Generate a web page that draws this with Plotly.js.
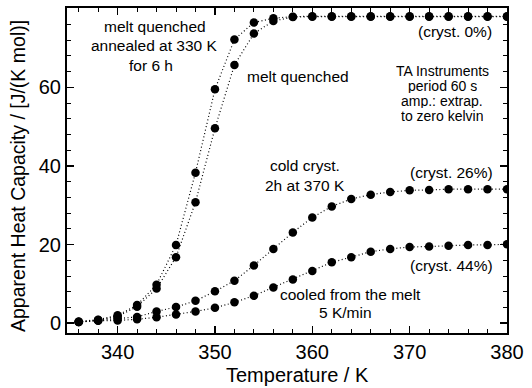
<!DOCTYPE html>
<html>
<head>
<meta charset="utf-8">
<script src="https://cdn.plot.ly/plotly-3.0.1.min.js"></script>
<style>html,body{margin:0;padding:0;background:#fff;}#chart{width:532px;height:388px;}</style>
</head>
<body>
<div id="chart"></div>
<script>
const temperature = [336,338,340,342,344,346,348,350,352,354,356,358,360,362,364,366,368,370,372,374,376,378,380];
const annealed   = [0.4,0.9,2.0,4.6,9.8,19.9,38.3,59.5,72.2,76.5,77.6,78.0,78.1,78.1,78.1,78.1,78.1,78.1,78.1,78.1,78.1,78.1,78.1];
const quenched   = [0.3,0.8,1.7,4.2,8.8,16.8,30.8,49.6,65.7,73.7,76.9,77.9,78.0,78.0,78.0,78.0,78.0,78.0,78.0,78.0,78.0,78.0,78.0];
const coldCryst  = [0.3,0.7,1.2,1.6,3.0,4.1,5.7,8.1,10.8,14.7,18.9,23.1,26.9,29.7,31.6,32.7,33.4,33.8,33.9,34.1,34.1,34.1,34.1];
const cooled     = [0.3,0.6,0.7,1.0,1.5,2.2,3.0,3.9,5.3,7.0,9.1,11.1,13.3,15.5,16.8,18.2,18.9,19.4,19.5,19.7,19.9,19.9,20.1];

const xTitle = 'Temperature / K';
const yTitle = 'Apparent Heat Capacity / [J/(K mol)]';

const seriesList = [annealed, quenched, coldCryst, cooled];
const traces = seriesList.map(v => ({
  x: temperature, y: v, type: 'scatter', mode: 'lines+markers',
  line: {color: '#000', width: 1.2, dash: '1px,2.5px'},
  marker: {color: '#000', size: 8.5},
  showlegend: false, hoverinfo: 'skip'
}));

const F = 'Liberation Sans, Arial, sans-serif';
// paper coords: plot area x 67..507 (440px), y 8..333 (325px)
const px = v => (v - 67) / 440;
const py = v => (333 - v) / 325;
const ann = (x, y, text, size, xanchor, angle, h) => {
  const a = {
    xref: 'paper', yref: 'paper', x: px(x), y: py(y), text: text, showarrow: false,
    font: {family: F, size: size, color: '#000'}, xanchor: xanchor || 'center', yanchor: 'middle',
    textangle: angle || 0
  };
  if (h) { a.height = h; a.borderpad = 0; }
  return a;
};

const layout = {
  width: 532, height: 388,
  margin: {l: 67, r: 25, t: 8, b: 55},
  paper_bgcolor: '#fff', plot_bgcolor: '#fff',
  font: {family: F, color: '#000'},
  xaxis: {
    range: [334.8, 380], dtick: 10, tick0: 340,
    ticks: 'inside', ticklen: 7, tickwidth: 1.5, tickcolor: '#000',
    minor: {dtick: 2, tick0: 340, ticks: 'inside', ticklen: 4, tickwidth: 1, tickcolor: '#000'},
    showline: true, linewidth: 2, linecolor: '#000', mirror: 'allticks',
    showgrid: false, zeroline: false,
    tickfont: {family: F, size: 20, color: '#000'}
  },
  yaxis: {
    range: [-2.5, 80.2], dtick: 20, tick0: 0,
    ticks: 'inside', ticklen: 7, tickwidth: 1.5, tickcolor: '#000',
    minor: {dtick: 4, tick0: 0, ticks: 'inside', ticklen: 4, tickwidth: 1, tickcolor: '#000'},
    showline: true, linewidth: 2, linecolor: '#000', mirror: 'allticks',
    showgrid: false, zeroline: false,
    tickfont: {family: F, size: 20, color: '#000'}
  },
  annotations: [
    ann(297, 375, xTitle, 20),
    ann(18, 176, yTitle, 19.5, 'center', -90),
    ann(155, 27, 'melt quenched', 15.5),
    ann(153.5, 46, 'annealed at 330 K', 15.5),
    ann(151, 65, 'for 6 h', 15.5),
    ann(297.5, 76, 'melt quenched', 15.5),
    ann(494, 31, '(cryst. 0%)', 15.5, 'right'),
    ann(442, 70, 'TA Instruments', 14, 'center', 0, 15),
    ann(442, 85, 'period 60 s', 14, 'center', 0, 15),
    ann(442, 100, 'amp.: extrap.', 14, 'center', 0, 15),
    ann(442, 115, 'to zero kelvin', 14, 'center', 0, 15),
    ann(305, 165.5, 'cold cryst.', 15.5),
    ann(305, 185, '2h at 370 K', 15.5),
    ann(495, 172, '(cryst. 26%)', 15.5, 'right'),
    ann(495, 265, '(cryst. 44%)', 15.5, 'right'),
    ann(350.5, 294, 'cooled from the melt', 15.5),
    ann(345, 312, '5 K/min', 15.5)
  ]
};

Plotly.newPlot('chart', traces, layout, {staticPlot: true, displayModeBar: false});
</script>
</body>
</html>
